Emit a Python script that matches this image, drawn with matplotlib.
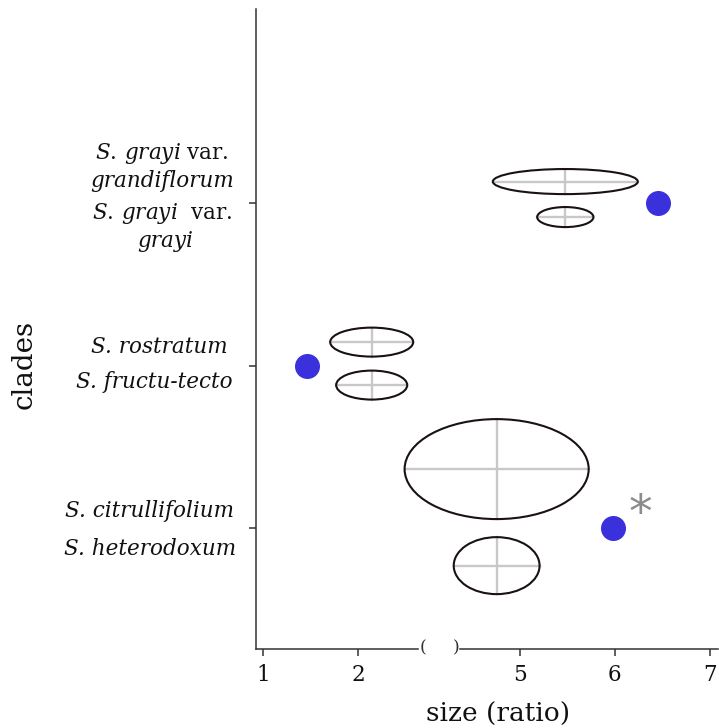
import matplotlib
matplotlib.use("Agg")
import matplotlib.pyplot as plt
from matplotlib.patches import Ellipse
import numpy as np

plt.rcParams['font.family'] = ['DejaVu Serif']
plt.rcParams['mathtext.fontset'] = 'custom'
plt.rcParams['mathtext.it'] = 'DejaVu Serif:italic'
plt.rcParams['mathtext.rm'] = 'DejaVu Serif'

# ---------------- data ----------------
clade_y = [3, 2, 1]
upper_names = [[r"$\mathit{S.\,grayi}$ var.", "grandiflorum"],
               ["S. rostratum"],
               ["S. citrullifolium"]]
lower_names = [[r"$\mathit{S.\,grayi}$  var.", "grayi"],
               ["S. fructu-tecto"],
               ["S. heterodoxum"]]
ratio_value = [6.45, 1.46, 5.98]          # blue dots
ellipse_center = [5.48, 2.14, 4.76]       # ellipse centre (size ratio)
upper_width = [1.52, 0.87, 1.93]
upper_height = [0.154, 0.178, 0.614]
upper_offset = [0.13, 0.144, 0.364]
lower_width = [0.59, 0.745, 0.90]
lower_height = [0.123, 0.178, 0.35]
lower_offset = [-0.088, -0.12, -0.229]
significant = [False, False, True]
xtick_values = [1, 2, 5, 6, 7]

BREAK_SHIFT = 1.31


def to_pos(v):
    v = np.asarray(v, dtype=float)
    return np.where(v < 3, v, v - BREAK_SHIFT)


fig = plt.figure(figsize=(7.19, 7.28), dpi=100)
W, H = 719, 728
ax_l, ax_r, ax_t, ax_b = 256.3, 718, 9, 649
ax = fig.add_axes([ax_l / W, 1 - ax_b / H, (ax_r - ax_l) / W, (ax_b - ax_t) / H])

xmin, xmax = 0.93, 5.771
ymin, ymax = 0.259, 4.19
ax.set_xlim(xmin, xmax)
ax.set_ylim(ymin, ymax)

spine_col = '#333333'
for s in ['top', 'right', 'bottom']:
    ax.spines[s].set_visible(False)
ax.spines['left'].set_color(spine_col)
ax.spines['left'].set_linewidth(1.1)

# broken bottom axis
ax.plot([xmin, 2.623], [ymin, ymin], color=spine_col, lw=1.1, clip_on=False, zorder=5)
ax.plot([3.064, xmax], [ymin, ymin], color=spine_col, lw=1.1, clip_on=False, zorder=5)
ax.text(2.68, ymin + 0.004, "(", ha='center', va='center', fontsize=12.5, color=spine_col)
ax.text(3.03, ymin + 0.004, ")", ha='center', va='center', fontsize=12.5, color=spine_col)

ax.set_xticks(to_pos(xtick_values))
ax.set_xticklabels([str(v) for v in xtick_values])
ax.set_yticks(clade_y)
ax.set_yticklabels([])
ax.tick_params(axis='both', colors=spine_col, length=5, width=1.1, labelsize=15.5,
               labelcolor='#111111')
ax.tick_params(axis='x', pad=6)

gray = '#c8c8c8'
edge = '#1a1212'
for i, y in enumerate(clade_y):
    cx = float(to_pos(ellipse_center[i]))
    for w, h, dy in [(upper_width[i], upper_height[i], upper_offset[i]),
                     (lower_width[i], lower_height[i], lower_offset[i])]:
        cy = y + dy
        ax.plot([cx - w / 2, cx + w / 2], [cy, cy], color=gray, lw=1.7, zorder=1)
        ax.plot([cx, cx], [cy - h / 2, cy + h / 2], color=gray, lw=1.7, zorder=1)
        ax.add_patch(Ellipse((cx, cy), w, h, fill=False, edgecolor=edge, lw=1.5, zorder=2))
    ax.plot(float(to_pos(ratio_value[i])), y, 'o', color='#3a30dc', ms=18, mec='none', zorder=3)
    if significant[i]:
        ax.text(float(to_pos(ratio_value[i])) + 0.285, y + 0.01, "*", ha='center',
                va='baseline', fontsize=34, color='#8c8c8c', family='DejaVu Sans')

# species labels (axes-x, data-y)
trans = ax.get_yaxis_transform()
label_x = [[-0.204, -0.204, -0.204, -0.198], [-0.210, -0.220], [-0.232, -0.231]]
label_dy = [[0.268, 0.097, -0.100, -0.272], [0.077, -0.138], [0.069, -0.164]]
for i, y in enumerate(clade_y):
    lines = upper_names[i] + lower_names[i]
    for j, txt in enumerate(lines):
        kw = dict(ha='center', va='baseline', fontsize=15.5, color='#111111', transform=trans)
        if '$' not in txt:
            kw['fontstyle'] = 'italic'
        ax.text(label_x[i][j], y + label_dy[i][j], txt, **kw)

ax.set_xlabel("size (ratio)", fontsize=19, color='#111111')
ax.xaxis.set_label_coords((498 - ax_l) / (ax_r - ax_l), -(702 - ax_b) / (ax_b - ax_t))
ax.xaxis.label.set_va('top')
ax.set_ylabel("clades", fontsize=20, color='#111111')
ax.yaxis.set_label_coords((24 - ax_l) / (ax_r - ax_l), (ax_b - 364) / (ax_b - ax_t))
ax.yaxis.label.set_va('center')

fig.savefig("out.png", dpi=100)
